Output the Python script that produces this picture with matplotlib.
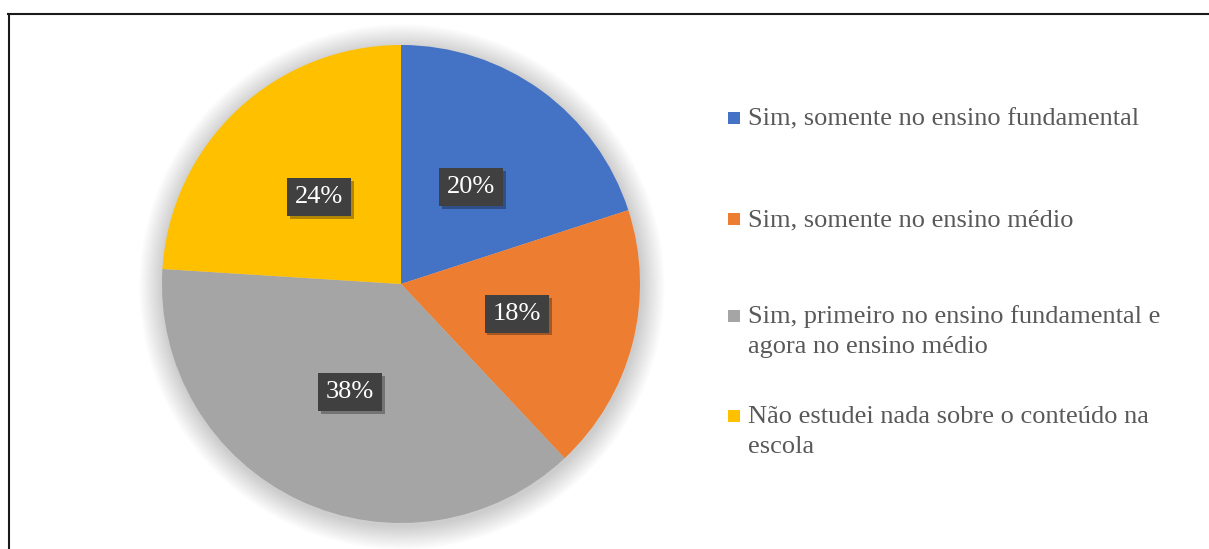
import matplotlib.pyplot as plt
import matplotlib.patches as patches
import matplotlib.patheffects as path_effects
from matplotlib.lines import Line2D

FIG_W = 1209
FIG_H = 549
DPI = 100

categories = [
    "Sim, somente no ensino fundamental",
    "Sim, somente no ensino médio",
    "Sim, primeiro no ensino fundamental e\nagora no ensino médio",
    "Não estudei nada sobre o conteúdo na\nescola",
]
shares = [20, 18, 38, 24]
colors = ["#4472C4", "#ED7D31", "#A5A5A5", "#FFC000"]

# layout, in pixels from the top-left corner
PIE_CX, PIE_CY, PIE_R = 401, 284, 239
LEG_MARK_X = 728
LEG_TEXT_X = 748
LEG_BASE_Y = [125, 226, 323, 423]
LINE_STEP = 30
FONT = "Liberation Serif"


def fx(x):
    return x / FIG_W


def fy(y):
    return 1 - y / FIG_H


fig = plt.figure(figsize=(FIG_W / DPI, FIG_H / DPI), dpi=DPI, facecolor="white")
ax = fig.add_axes([fx(PIE_CX - PIE_R), (FIG_H - PIE_CY - PIE_R) / FIG_H,
                   2 * PIE_R / FIG_W, 2 * PIE_R / FIG_H])

# soft glow behind the pie
for k in range(1, 26):
    glow = patches.Circle((0.004, -0.012), 1 + 0.004 * k, facecolor="black",
                          alpha=0.008, linewidth=0, zorder=0, clip_on=False)
    ax.add_patch(glow)

wedges, _, autotexts = ax.pie(
    shares, colors=colors, startangle=90, counterclock=False,
    autopct=lambda p: f"{p:.0f}%", pctdistance=0.5,
    wedgeprops=dict(linewidth=0, zorder=2),
    textprops=dict(color="white", fontsize=19, family=FONT))

for t in autotexts:
    t.set_zorder(5)
    t.set_bbox(dict(boxstyle="square,pad=0.3", facecolor="#404040", edgecolor="none"))
    t.get_bbox_patch().set_path_effects([
        path_effects.withSimplePatchShadow(offset=(2, -2), shadow_rgbFace="black", alpha=0.3),
        path_effects.Normal()])

ax.set_xlim(-1, 1)
ax.set_ylim(-1, 1)
ax.axis("off")

# legend drawn by hand so multi-line entries keep their spacing
for label, color, base in zip(categories, colors, LEG_BASE_Y):
    mark = patches.Rectangle((fx(LEG_MARK_X), fy(base - 1)), 12 / FIG_W, 12 / FIG_H,
                             transform=fig.transFigure, facecolor=color, edgecolor="none")
    fig.add_artist(mark)
    for i, line in enumerate(label.split("\n")):
        fig.text(fx(LEG_TEXT_X), fy(base + i * LINE_STEP), line, ha="left", va="baseline",
                 fontsize=19, family=FONT, color="#595959")

# frame on top and left
fig.add_artist(Line2D([fx(8), 1], [fy(14), fy(14)], color="#1a1a1a", linewidth=1.5))
fig.add_artist(Line2D([fx(9), fx(9)], [fy(14), 0], color="#1a1a1a", linewidth=1.5))

fig.savefig("out.png", dpi=DPI, facecolor="white")
